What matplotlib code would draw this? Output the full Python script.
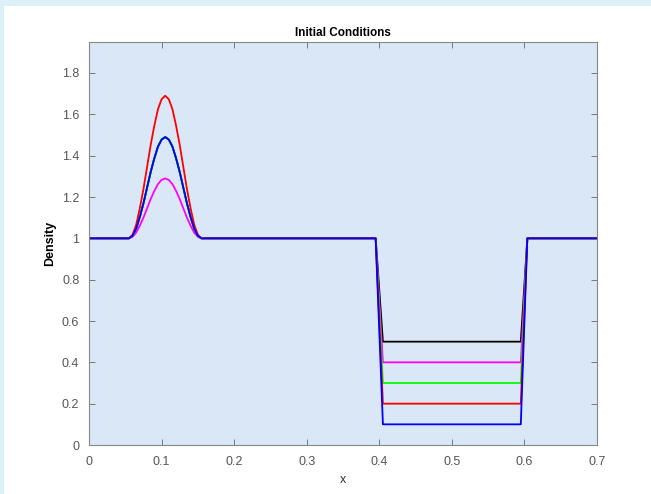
import matplotlib.pyplot as plt
from matplotlib.patches import Rectangle

plt.rcParams['font.family'] = ['Liberation Sans', 'DejaVu Sans']

# shared x positions of the bump
x_bump = [0.055, 0.060, 0.065, 0.070, 0.075, 0.080, 0.085, 0.090, 0.095, 0.100,
          0.105, 0.110, 0.115, 0.120, 0.125, 0.130, 0.135, 0.140, 0.145, 0.150, 0.155]
# bump shape as fraction of peak height above 1
bump_frac = [0.0, 0.025, 0.095, 0.21, 0.345, 0.5, 0.655, 0.79, 0.905, 0.975,
             1.0, 0.975, 0.905, 0.79, 0.655, 0.5, 0.345, 0.21, 0.095, 0.025, 0.0]

# corners of the well
x_well = [0.395, 0.405, 0.595, 0.604]

colors = ['#000000', '#ff00ff', '#00ff00', '#ff0000', '#0000ff']
peaks = [1.49, 1.29, 1.49, 1.69, 1.49]
depths = [0.5, 0.4, 0.3, 0.2, 0.1]

fig = plt.figure(figsize=(6.51, 4.94), dpi=100, facecolor='#dcf0f8')
fig.patches.append(Rectangle((4 / 651, 0), 1, 1 - 6 / 494, transform=fig.transFigure,
                             facecolor='white', edgecolor='none', zorder=-10))
ax = fig.add_axes([89 / 651, 49 / 494, 508 / 651, 403 / 494])
ax.set_facecolor('#dae7f7')

for c, p, d in zip(colors, peaks, depths):
    xs = [0.0] + x_bump + x_well + [0.7]
    ys = [1.0] + [1 + (p - 1) * f for f in bump_frac] + [1.0, d, d, 1.0] + [1.0]
    ax.plot(xs, ys, color=c, linewidth=1.3)

ax.set_xlim(0, 0.7)
ax.set_ylim(0, 1.95)
ax.set_xticks([0, 0.1, 0.2, 0.3, 0.4, 0.5, 0.6, 0.7])
ax.set_xticklabels(['0', '0.1', '0.2', '0.3', '0.4', '0.5', '0.6', '0.7'])
ax.set_yticks([0, 0.2, 0.4, 0.6, 0.8, 1, 1.2, 1.4, 1.6, 1.8])
ax.set_yticklabels(['0', '0.2', '0.4', '0.6', '0.8', '1', '1.2', '1.4', '1.6', '1.8'])
ax.tick_params(direction='in', top=True, right=True, length=4, width=0.6,
               colors='#666666', labelsize=9, labelcolor='#555555')
ax.tick_params(axis='x', pad=8)
ax.tick_params(axis='y', pad=7)
for s in ax.spines.values():
    s.set_color('#888888')
    s.set_linewidth(0.8)

ax.set_title('Initial Conditions', fontsize=8.5, fontweight='bold', pad=4)
ax.set_xlabel('x', fontsize=9, labelpad=4, color='#333333')
ax.set_ylabel('Density', fontsize=9, fontweight='bold', labelpad=4)

plt.savefig('out.png', dpi=100, facecolor=fig.get_facecolor())
